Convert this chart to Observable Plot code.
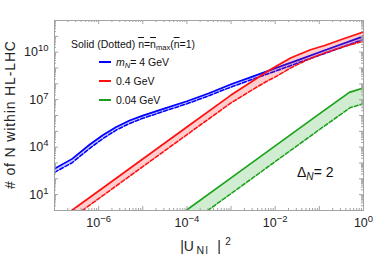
<!DOCTYPE html>
<html><head><meta charset="utf-8">
<script src="https://cdn.jsdelivr.net/npm/d3@7"></script>
<script src="https://cdn.jsdelivr.net/npm/@observablehq/plot@0.6"></script>
<style>
body{margin:0;background:#fff;}
#wrap{position:relative;width:374px;height:255px;font-family:"Liberation Sans",Arial,sans-serif;color:#111;}
.lg{position:absolute;white-space:nowrap;font-size:10.5px;line-height:12px;}
.sw{position:absolute;width:12px;height:2px;}
.ov{text-decoration:overline;}
.sb{font-size:0.72em;position:relative;top:0.3em;}
</style></head>
<body><div id="wrap"></div>
<script>
// tick labels (log10 exponents)
const xLabelExps = [-6, -4, -2, 0];
const yLabelExps = [1, 4, 7, 10];
const seriesLabels = ["4 GeV", "0.4 GeV", "0.04 GeV"];
const seriesColors = ["#0000ff", "#ff1010", "#1aa31a"];

// m_N = 4 GeV : log10|U|^2 and log10 N (solid = n̄max, dashed = n̄=1)
const blueX      = [-7, -6.6, -6.2, -5.9, -5.6, -5.3, -5.0, -4.5, -4.0, -3.5, -3.0, -2.5, -2.0, -1.5, -1.0, -0.5, 0];
const blueSolid  = [2.63, 3.26, 4.17, 4.77, 5.28, 5.68, 5.99, 6.45, 6.9, 7.41, 7.97, 8.47, 8.98, 9.48, 9.99, 10.5, 11.0];
const blueDashed = [2.41, 3.02, 3.93, 4.55, 5.08, 5.5, 5.82, 6.29, 6.74, 7.25, 7.8, 8.3, 8.8, 9.3, 9.8, 10.3, 10.8];

// m_N = 0.4 GeV
const redSolidX  = [-6.61, -6, -5, -4, -3, -2.5, -2.2, -2.0, -1.64, -1.2, -0.88, -0.5, 0];
const redSolidY  = [0, 1.23, 3.25, 5.27, 7.29, 8.2, 8.75, 9.08, 9.65, 10.15, 10.42, 10.8, 11.28];
const redDashX   = [-6.37, -6, -5, -4, -3, -2.55, -2.2, -2.02, -1.64, -1.27, -0.88, -0.5, 0];
const redDashY   = [0, 0.75, 2.77, 4.79, 6.8, 7.57, 8.15, 8.4, 9.02, 9.52, 9.95, 10.3, 10.7];

// m_N = 0.04 GeV
const greenSolidX = [-4.02, -3, -2, -1, -0.32, 0];
const greenSolidY = [0, 2.06, 4.08, 6.1, 7.46, 7.74];
const greenDashX  = [-3.53, -3, -2, -1, -0.3, 0];
const greenDashY  = [0, 1.07, 3.09, 5.11, 6.5, 6.75];

function rows(xs, ys, xd, yd) {
  return xs.map((_, i) => ({xs: 10 ** xs[i], ys: 10 ** ys[i], xd: 10 ** xd[i], yd: 10 ** yd[i]}));
}
const series = [
  rows(blueX, blueSolid, blueX, blueDashed),
  rows(redSolidX, redSolidY, redDashX, redDashY),
  rows(greenSolidX, greenSolidY, greenDashX, greenDashY)
];

const W = 374, H = 255, mL = 54, mR = 11, mT = 20, mB = 45;
const iw = W - mL - mR, ih = H - mT - mB;
const gray = "#a3a3a3";

const xDec = d3.range(-7, 1).map(e => 10 ** e);
const xMin = d3.range(-7, 0).flatMap(e => d3.range(2, 10).map(k => k * 10 ** e));
const yDec = d3.range(0, 13).map(e => 10 ** e);
const yMin = d3.range(0, 12).flatMap(e => d3.range(2, 10).map(k => k * 10 ** e));

const sup = e => "10^" + String(e).replace("-", "\u2212");

const marks = [];
series.forEach((data, i) => {
  const c = seriesColors[i];
  marks.push(Plot.area(data, {x1: "xs", y1: "ys", x2: "xd", y2: "yd", fill: c, fillOpacity: 0.2, clip: true}));
  marks.push(Plot.line(data, {x: "xd", y: "yd", stroke: c, strokeWidth: 1.6, strokeDasharray: "4,2", clip: true}));
  marks.push(Plot.line(data, {x: "xs", y: "ys", stroke: c, strokeWidth: 1.7, clip: true}));
});

const chart = Plot.plot({
  width: W, height: H,
  marginLeft: mL, marginRight: mR, marginTop: mT, marginBottom: mB,
  style: {background: "white", fontFamily: "Liberation Sans, Arial, sans-serif", fontSize: "12.5px", color: "#222"},
  x: {type: "log", domain: [1e-7, 1]},
  y: {type: "log", domain: [1, 1e12]},
  marks: [
    ...marks,
    Plot.ruleX(xDec, {stroke: gray, insetTop: ih - 4}),
    Plot.ruleX(xDec, {stroke: gray, insetBottom: ih - 4}),
    Plot.ruleX(xMin, {stroke: gray, insetTop: ih - 2}),
    Plot.ruleX(xMin, {stroke: gray, insetBottom: ih - 2}),
    Plot.ruleY(yDec, {stroke: gray, insetRight: iw - 4}),
    Plot.ruleY(yDec, {stroke: gray, insetLeft: iw - 4}),
    Plot.ruleY(yMin, {stroke: gray, insetRight: iw - 2}),
    Plot.ruleY(yMin, {stroke: gray, insetLeft: iw - 2}),
    Plot.frame({stroke: gray}),
    Plot.axisX({ticks: xLabelExps.map(e => 10 ** e), tickSize: 0, tickPadding: 8, fontSize: 12.5, label: null,
      tickFormat: d => sup(Math.round(Math.log10(d)))}),
    Plot.axisY({ticks: yLabelExps.map(e => 10 ** e), tickSize: 0, tickPadding: 6, fontSize: 12.5, label: null,
      tickFormat: d => sup(Math.round(Math.log10(d)))})
  ]
});

chart.querySelectorAll("text").forEach(t => {
  const m = t.textContent.match(/^10\^(.+)$/);
  if (m) {
    t.textContent = "";
    const s = d3.select(t);
    s.append("tspan").text("10");
    s.append("tspan").attr("dy", "-5").attr("font-size", "9.5px").text(m[1]);
  }
});

const svg = d3.select(chart);
svg.append("text")
  .attr("transform", "translate(15,115) rotate(-90)")
  .attr("text-anchor", "middle").attr("font-size", 14).attr("fill", "#222")
  .attr("textLength", 148).attr("lengthAdjust", "spacing")
  .text("# of N within HL-LHC");
const xt = svg.append("text").attr("font-size", 14).attr("fill", "#222").attr("y", 251);
xt.append("tspan").attr("x", 187).text("|U");
xt.append("tspan").attr("x", 203).attr("dy", 3).attr("font-size", 10.5).attr("letter-spacing", "1.5").text("Nl");
xt.append("tspan").attr("x", 219).attr("dy", -3).text("|");
xt.append("tspan").attr("x", 228).attr("dy", -6).attr("font-size", 10).text("2");

const wrap = document.getElementById("wrap");
wrap.appendChild(chart);

function add(html, cls, style) {
  const d = document.createElement("div");
  d.className = cls;
  d.innerHTML = html;
  Object.assign(d.style, style);
  wrap.appendChild(d);
}
add('Solid (Dotted) <span class="ov">n</span>=<span class="ov">n</span><span class="sb">max</span>(<span class="ov">n</span>=1)', "lg", {left: "71px", top: "38px"});
const rowsY = [62, 81, 100];
seriesLabels.forEach((lab, i) => {
  add("", "sw", {left: "99px", top: (rowsY[i] - 1) + "px", background: seriesColors[i]});
  const html = i === 0 ? '<i>m</i><span class="sb"><i>N</i></span>= ' + lab : lab;
  add(html, "lg", {left: "116px", top: (rowsY[i] - 6) + "px"});
});
add('\u0394<span class="sb"><i>N</i></span>= 2', "lg", {left: "297px", top: "164px", fontSize: "14px", lineHeight: "16px"});
</script>
</body></html>
